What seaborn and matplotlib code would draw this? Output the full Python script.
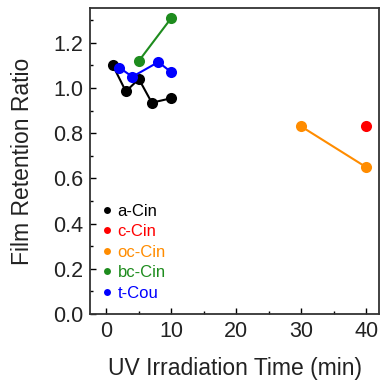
import numpy as np
import pandas as pd
import seaborn as sns
import matplotlib.pyplot as plt
from matplotlib.lines import Line2D
from matplotlib.ticker import MultipleLocator

# data
a_cin_t = [1, 3, 5, 7, 10]
a_cin_r = [1.10, 0.985, 1.04, 0.935, 0.955]
c_cin_t = [40]
c_cin_r = [0.83]
oc_cin_t = [30, 40]
oc_cin_r = [0.83, 0.65]
bc_cin_t = [5, 10]
bc_cin_r = [1.12, 1.31]
t_cou_t = [2, 4, 8, 10]
t_cou_r = [1.09, 1.05, 1.115, 1.07]

labels = ['a-Cin', 'c-Cin', 'oc-Cin', 'bc-Cin', 't-Cou']
colors = ['black', '#ff0000', '#ff8c00', '#1e8c1e', '#0000ff']
series = [(a_cin_t, a_cin_r), (c_cin_t, c_cin_r), (oc_cin_t, oc_cin_r),
          (bc_cin_t, bc_cin_r), (t_cou_t, t_cou_r)]

sns.set_theme(style="ticks")
plt.rcParams['font.family'] = ['Liberation Sans', 'DejaVu Sans']

fig = plt.figure(figsize=(3.92, 3.91), dpi=100)
ax = fig.add_axes([0.230, 0.197, 0.737, 0.783])

for (t, r), lab, col in zip(series, labels, colors):
    df = pd.DataFrame({'t': t, 'r': r})
    sns.lineplot(data=df, x='t', y='r', ax=ax, color=col, marker='o',
                 markersize=8, markeredgewidth=0, linewidth=1.5, legend=False)

ax.set_xlim(-2.5, 42)
ax.set_ylim(0, 1.355)
ax.xaxis.set_major_locator(MultipleLocator(10))
ax.xaxis.set_minor_locator(MultipleLocator(5))
ax.yaxis.set_major_locator(MultipleLocator(0.2))
ax.yaxis.set_minor_locator(MultipleLocator(0.1))
ax.yaxis.set_major_formatter(plt.FuncFormatter(lambda v, p: f'{v:.1f}'))
ax.tick_params(which='both', direction='in', color='black', labelsize=15.5,
               labelcolor='#222222', pad=5)
ax.tick_params(which='major', length=4, width=1)
ax.tick_params(which='minor', length=2.5, width=1)
for s in ax.spines.values():
    s.set_linewidth(1.3)
    s.set_color('#333333')

ax.set_xlabel('UV Irradiation Time (min)', fontsize=16.5, color='#222222', labelpad=11)
ax.set_ylabel('Film Retention Ratio', fontsize=16.5, color='#222222', labelpad=14)

handles = [Line2D([], [], marker='o', linestyle='', color=c, markersize=5, markeredgewidth=0)
           for c in colors]
leg = ax.legend(handles, labels, loc='lower left', frameon=False, fontsize=12,
                handlelength=0.6, handletextpad=0.35, labelspacing=0.33,
                borderpad=0.2, bbox_to_anchor=(0.0, 0.005), labelcolor=colors)

fig.savefig('out.png', dpi=100)
